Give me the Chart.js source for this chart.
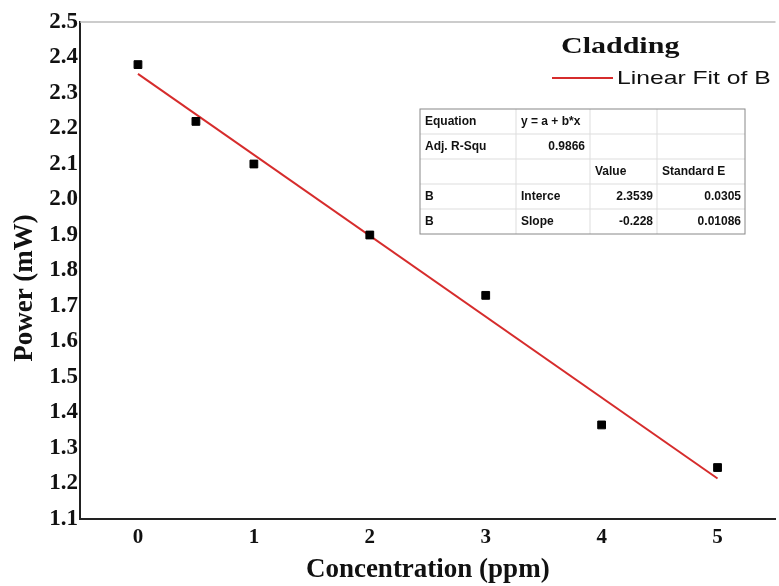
<!DOCTYPE html>
<html lang="en">

<head>
  <meta charset="UTF-8" />
  <title>Cladding</title>
  <style>
    * {
      box-sizing: border-box;
      margin: 0;
      padding: 0;
    }

    html,
    body {
      width: 779px;
      height: 586px;
      background: #fff;
      overflow: hidden;
    }

    #chart-container {
      width: 782px;
      height: 586px;
    }
  </style>
  <script src="https://cdn.jsdelivr.net/npm/chart.js@4/dist/chart.umd.min.js"></script>
</head>

<body>
  <div id="chart-container">
    <canvas id="powerChart"></canvas>
  </div>

  <script>
    // measured points (Concentration ppm -> Power mW)
    const concentration = [0, 0.5, 1, 2, 3, 4, 5];
    const power = [2.38, 2.22, 2.10, 1.90, 1.73, 1.365, 1.245];

    // linear fit endpoints
    const fitX = [0, 5];
    const fitY = [2.354, 1.214];

    const xTicks = [0, 1, 2, 3, 4, 5];
    const yTicks = [1.1, 1.2, 1.3, 1.4, 1.5, 1.6, 1.7, 1.8, 1.9, 2.0, 2.1, 2.2, 2.3, 2.4, 2.5];

    // fit-result table
    const tableRows = [
      ['Equation', 'y = a + b*x', '', ''],
      ['Adj. R-Squ', '0.9866', '', ''],
      ['', '', 'Value', 'Standard E'],
      ['B', 'Interce', '2.3539', '0.0305'],
      ['B', 'Slope', '-0.228', '0.01086']
    ];

    const SERIF = '"Liberation Serif", "Times New Roman", serif';
    const SANS = '"Liberation Sans", Arial, sans-serif';
    const RED = '#d62c2c';

    // legend, y title and table drawn on top of the plot
    const overlay = {
      id: 'overlay',
      afterDraw(chart) {
        const c = chart.ctx;
        const area = chart.chartArea;
        c.save();

        // top frame line
        c.strokeStyle = '#bbb';
        c.lineWidth = 1.5;
        c.beginPath();
        c.moveTo(area.left, area.top);
        c.lineTo(area.right, area.top);
        c.stroke();

        // y axis title (sits a bit below the axis middle in the original)
        c.save();
        c.translate(25, 288);
        c.rotate(-Math.PI / 2);
        c.fillStyle = '#111';
        c.font = 'bold 27px ' + SERIF;
        c.textAlign = 'center';
        c.textBaseline = 'middle';
        c.fillText('Power (mW)', 0, 0);
        c.restore();

        // legend (text is wide in the original, so stretch it a little)
        c.fillStyle = '#111';
        c.textAlign = 'left';
        c.textBaseline = 'middle';
        c.save();
        c.translate(561, 47);
        c.scale(1.25, 1);
        c.font = 'bold 24px ' + SERIF;
        c.fillText('Cladding', 0, 0);
        c.restore();

        c.strokeStyle = RED;
        c.lineWidth = 2;
        c.beginPath();
        c.moveTo(552, 78);
        c.lineTo(613, 78);
        c.stroke();

        c.save();
        c.translate(617, 79);
        c.scale(1.3, 1);
        c.font = '19px ' + SANS;
        c.fillText('Linear Fit of B', 0, 0);
        c.restore();

        // table
        const colX = [420, 516, 590, 657, 745];
        const top = 109, rowH = 25;
        c.fillStyle = '#fff';
        c.fillRect(colX[0], top, colX[4] - colX[0], rowH * tableRows.length);
        c.strokeStyle = '#ddd';
        c.lineWidth = 1;
        for (let r = 1; r < tableRows.length; r++) {
          c.beginPath();
          c.moveTo(colX[0], top + r * rowH);
          c.lineTo(colX[4], top + r * rowH);
          c.stroke();
        }
        for (let k = 1; k < 4; k++) {
          c.beginPath();
          c.moveTo(colX[k], top);
          c.lineTo(colX[k], top + rowH * tableRows.length);
          c.stroke();
        }
        c.strokeStyle = '#888';
        c.strokeRect(colX[0], top, colX[4] - colX[0], rowH * tableRows.length);

        c.fillStyle = '#111';
        c.font = 'bold 12px ' + SANS;
        tableRows.forEach((row, r) => {
          const y = top + r * rowH + rowH / 2;
          row.forEach((txt, k) => {
            if (!txt) return;
            const numeric = r >= 1 && k >= 1 && /^-?[0-9.]+$/.test(txt);
            if (r === 1 && k === 1) {
              c.textAlign = 'right';
              c.fillText(txt, colX[k + 1] - 5, y);
            } else if (numeric) {
              c.textAlign = 'right';
              c.fillText(txt, colX[k + 1] - 4, y);
            } else {
              c.textAlign = 'left';
              c.fillText(txt, colX[k] + 5, y);
            }
          });
        });
        c.restore();
      }
    };

    const ctx = document.getElementById('powerChart').getContext('2d');
    new Chart(ctx, {
      type: 'scatter',
      data: {
        datasets: [{
          label: 'Linear Fit of B',
          type: 'line',
          data: fitX.map((x, i) => ({ x, y: fitY[i] })),
          borderColor: RED,
          borderWidth: 2,
          pointRadius: 0,
          fill: false,
          order: 2
        }, {
          label: 'B',
          data: concentration.map((x, i) => ({ x, y: power[i] })),
          pointStyle: 'rect',
          pointRadius: 5.5,
          backgroundColor: '#000',
          borderColor: '#000',
          borderWidth: 1,
          order: 1
        }]
      },
      options: {
        animation: false,
        responsive: true,
        maintainAspectRatio: false,
        layout: { padding: { top: 22, right: 1, left: 0, bottom: 0 } },
        scales: {
          x: {
            type: 'linear',
            min: -0.5,
            max: 5.5,
            afterBuildTicks: axis => { axis.ticks = xTicks.map(v => ({ value: v })); },
            afterFit: axis => { axis.height = 67; },
            grid: { display: false, drawTicks: false },
            border: { display: true, color: '#222', width: 2 },
            ticks: {
              color: '#111',
              padding: 6,
              font: { family: SERIF, size: 21, weight: 'bold' }
            },
            title: {
              display: true,
              text: 'Concentration (ppm)',
              color: '#111',
              padding: { top: 0, bottom: 0 },
              font: { family: SERIF, size: 27, weight: 'bold' }
            }
          },
          y: {
            min: 1.1,
            max: 2.5,
            afterBuildTicks: axis => { axis.ticks = yTicks.map(v => ({ value: v })); },
            afterFit: axis => { axis.width = 80; },
            grid: { display: false, drawTicks: false },
            border: { display: true, color: '#222', width: 2 },
            ticks: {
              color: '#111',
              padding: 2,
              callback: v => v.toFixed(1),
              font: { family: SERIF, size: 23, weight: 'bold' }
            },
            title: { display: false }
          }
        },
        plugins: {
          legend: { display: false },
          tooltip: { enabled: false }
        }
      },
      plugins: [overlay]
    });
  </script>
</body>

</html>
